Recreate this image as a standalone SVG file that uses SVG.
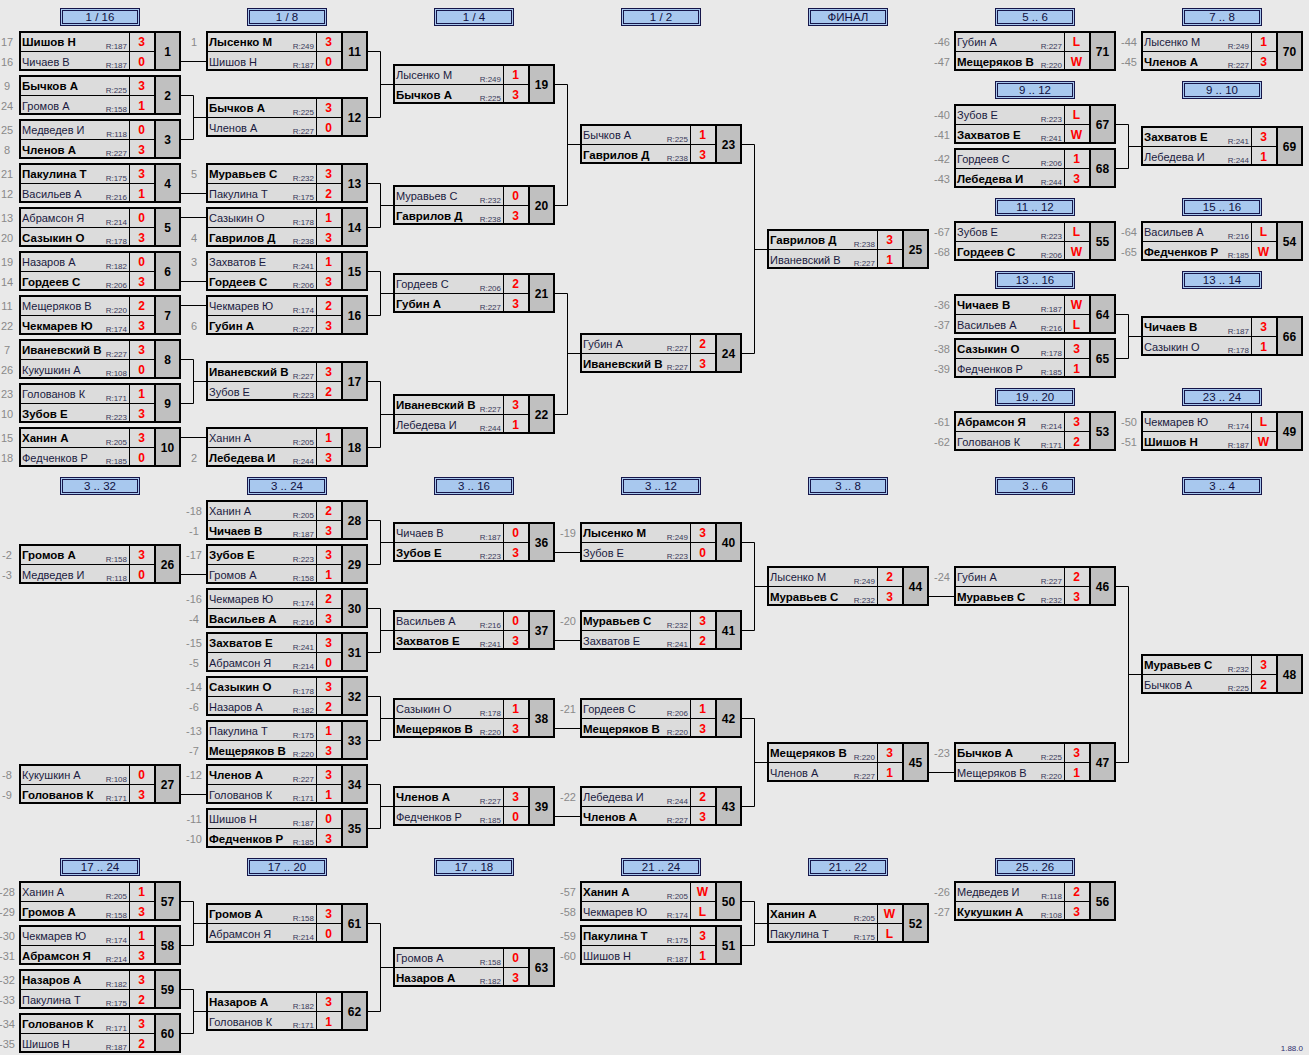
<svg xmlns="http://www.w3.org/2000/svg" xmlns:xlink="http://www.w3.org/1999/xlink" width="1309" height="1055" viewBox="0 0 1309 1055">
<style>
text{font-family:"Liberation Sans",Arial,sans-serif}
.n{font-size:11px;fill:#1a1a40}
.w{font-size:11.5px;font-weight:bold;fill:#000}
.r{font-size:8px;fill:#3a3a5a;text-anchor:end}
.s{font-size:12px;font-weight:bold;fill:#f00;text-anchor:middle}
.k{font-size:12px;font-weight:bold;fill:#000;text-anchor:middle}
.l{font-size:11px;fill:#8a8a8a;text-anchor:middle}
.tt{font-size:11.5px;fill:#101040;text-anchor:middle}
.c{fill:none;stroke:#000;stroke-width:1}
.v{font-size:8px;fill:#303070;text-anchor:end}
</style>
<defs>
<g id="fr">
<rect x="0" y="0" width="162" height="40" fill="#dcdcdc"/>
<rect x="137" y="0" width="25" height="40" fill="#c0c0c0"/>
<path d="M0 20.5H137M110.5 0V40" stroke="#000" stroke-width="1"/>
<rect x="135" y="0" width="2" height="40" fill="#000"/>
<rect x="1" y="1" width="160" height="38" fill="none" stroke="#000" stroke-width="2"/>
</g>
<g id="tf">
<rect x="41.5" y="0.5" width="79" height="17" fill="#a8c8ee" stroke="#16164a"/>
<rect x="43.5" y="2.5" width="75" height="13" fill="none" stroke="#16164a"/>
</g>
</defs>
<rect width="1309" height="1055" fill="#e9e9e9"/>

<g id="titles">
<g id="t1" transform="translate(19,8)"><use href="#tf"/><text class="tt" x="81" y="13">1 / 16</text></g>
<g id="t2" transform="translate(206,8)"><use href="#tf"/><text class="tt" x="81" y="13">1 / 8</text></g>
<g id="t3" transform="translate(393,8)"><use href="#tf"/><text class="tt" x="81" y="13">1 / 4</text></g>
<g id="t4" transform="translate(580,8)"><use href="#tf"/><text class="tt" x="81" y="13">1 / 2</text></g>
<g id="t5" transform="translate(767,8)"><use href="#tf"/><text class="tt" x="81" y="13">ФИНАЛ</text></g>
<g id="t6" transform="translate(954,8)"><use href="#tf"/><text class="tt" x="81" y="13">5 .. 6</text></g>
<g id="t7" transform="translate(1141,8)"><use href="#tf"/><text class="tt" x="81" y="13">7 .. 8</text></g>
<g id="t8" transform="translate(954,81)"><use href="#tf"/><text class="tt" x="81" y="13">9 .. 12</text></g>
<g id="t9" transform="translate(1141,81)"><use href="#tf"/><text class="tt" x="81" y="13">9 .. 10</text></g>
<g id="t10" transform="translate(954,198)"><use href="#tf"/><text class="tt" x="81" y="13">11 .. 12</text></g>
<g id="t11" transform="translate(1141,198)"><use href="#tf"/><text class="tt" x="81" y="13">15 .. 16</text></g>
<g id="t12" transform="translate(954,271)"><use href="#tf"/><text class="tt" x="81" y="13">13 .. 16</text></g>
<g id="t13" transform="translate(1141,271)"><use href="#tf"/><text class="tt" x="81" y="13">13 .. 14</text></g>
<g id="t14" transform="translate(954,388)"><use href="#tf"/><text class="tt" x="81" y="13">19 .. 20</text></g>
<g id="t15" transform="translate(1141,388)"><use href="#tf"/><text class="tt" x="81" y="13">23 .. 24</text></g>
<g id="t16" transform="translate(19,477)"><use href="#tf"/><text class="tt" x="81" y="13">3 .. 32</text></g>
<g id="t17" transform="translate(206,477)"><use href="#tf"/><text class="tt" x="81" y="13">3 .. 24</text></g>
<g id="t18" transform="translate(393,477)"><use href="#tf"/><text class="tt" x="81" y="13">3 .. 16</text></g>
<g id="t19" transform="translate(580,477)"><use href="#tf"/><text class="tt" x="81" y="13">3 .. 12</text></g>
<g id="t20" transform="translate(767,477)"><use href="#tf"/><text class="tt" x="81" y="13">3 .. 8</text></g>
<g id="t21" transform="translate(954,477)"><use href="#tf"/><text class="tt" x="81" y="13">3 .. 6</text></g>
<g id="t22" transform="translate(1141,477)"><use href="#tf"/><text class="tt" x="81" y="13">3 .. 4</text></g>
<g id="t23" transform="translate(19,858)"><use href="#tf"/><text class="tt" x="81" y="13">17 .. 24</text></g>
<g id="t24" transform="translate(206,858)"><use href="#tf"/><text class="tt" x="81" y="13">17 .. 20</text></g>
<g id="t25" transform="translate(393,858)"><use href="#tf"/><text class="tt" x="81" y="13">17 .. 18</text></g>
<g id="t26" transform="translate(580,858)"><use href="#tf"/><text class="tt" x="81" y="13">21 .. 24</text></g>
<g id="t27" transform="translate(767,858)"><use href="#tf"/><text class="tt" x="81" y="13">21 .. 22</text></g>
<g id="t28" transform="translate(954,858)"><use href="#tf"/><text class="tt" x="81" y="13">25 .. 26</text></g>
</g>

<g id="connectors" class="c">
<path d="M181 61.5H206"/>
<path d="M181 95.5H193.5V139.5H181M193.5 117.5H206"/>
<path d="M181 193.5H206"/>
<path d="M181 217.5H206"/>
<path d="M181 281.5H206"/>
<path d="M181 305.5H206"/>
<path d="M181 359.5H193.5V403.5H181M193.5 381.5H206"/>
<path d="M181 437.5H206"/>
<path d="M368 51.5H380.5V117.5H368M380.5 84.5H393"/>
<path d="M368 183.5H380.5V227.5H368M380.5 205.5H393"/>
<path d="M368 271.5H380.5V315.5H368M380.5 293.5H393"/>
<path d="M368 381.5H380.5V447.5H368M380.5 414.5H393"/>
<path d="M555 84.5H567.5V205.5H555M567.5 144.5H580"/>
<path d="M555 293.5H567.5V414.5H555M567.5 353.5H580"/>
<path d="M742 144.5H754.5V353.5H742M754.5 249.5H767"/>
<path d="M1116 124.5H1128.5V168.5H1116M1128.5 146.5H1141"/>
<path d="M1116 314.5H1128.5V358.5H1116M1128.5 336.5H1141"/>
<path d="M181 574.5H206"/>
<path d="M181 794.5H206"/>
<path d="M368 520.5H380.5V564.5H368M380.5 542.5H393"/>
<path d="M368 608.5H380.5V652.5H368M380.5 630.5H393"/>
<path d="M368 696.5H380.5V740.5H368M380.5 718.5H393"/>
<path d="M368 784.5H380.5V828.5H368M380.5 806.5H393"/>
<path d="M555 552.5H580"/>
<path d="M555 640.5H580"/>
<path d="M555 728.5H580"/>
<path d="M555 816.5H580"/>
<path d="M742 542.5H754.5V630.5H742M754.5 586.5H767"/>
<path d="M742 718.5H754.5V806.5H742M754.5 762.5H767"/>
<path d="M929 596.5H954"/>
<path d="M929 772.5H954"/>
<path d="M1116 586.5H1128.5V762.5H1116M1128.5 674.5H1141"/>
<path d="M181 901.5H193.5V945.5H181M193.5 923.5H206"/>
<path d="M181 989.5H193.5V1033.5H181M193.5 1011.5H206"/>
<path d="M368 923.5H380.5V1011.5H368M380.5 967.5H393"/>
<path d="M742 901.5H754.5V945.5H742M754.5 923.5H767"/>
</g>

<g id="m1" transform="translate(19,31)"><use href="#fr"/><text class="w" x="3" y="15">Шишов Н</text><text class="r" x="108" y="17.5">R:187</text><text class="s" x="122.5" y="15">3</text><text class="n" x="3" y="34.5">Чичаев В</text><text class="r" x="108" y="37">R:187</text><text class="s" x="122.5" y="34.5">0</text><text class="k" x="148.5" y="25">1</text><text class="l" x="-12" y="15">17</text><text class="l" x="-12" y="35">16</text></g>
<g id="m2" transform="translate(19,75)"><use href="#fr"/><text class="w" x="3" y="15">Бычков А</text><text class="r" x="108" y="17.5">R:225</text><text class="s" x="122.5" y="15">3</text><text class="n" x="3" y="34.5">Громов А</text><text class="r" x="108" y="37">R:158</text><text class="s" x="122.5" y="34.5">1</text><text class="k" x="148.5" y="25">2</text><text class="l" x="-12" y="15">9</text><text class="l" x="-12" y="35">24</text></g>
<g id="m3" transform="translate(19,119)"><use href="#fr"/><text class="n" x="3" y="15">Медведев И</text><text class="r" x="108" y="17.5">R:118</text><text class="s" x="122.5" y="15">0</text><text class="w" x="3" y="34.5">Членов А</text><text class="r" x="108" y="37">R:227</text><text class="s" x="122.5" y="34.5">3</text><text class="k" x="148.5" y="25">3</text><text class="l" x="-12" y="15">25</text><text class="l" x="-12" y="35">8</text></g>
<g id="m4" transform="translate(19,163)"><use href="#fr"/><text class="w" x="3" y="15">Пакулина Т</text><text class="r" x="108" y="17.5">R:175</text><text class="s" x="122.5" y="15">3</text><text class="n" x="3" y="34.5">Васильев А</text><text class="r" x="108" y="37">R:216</text><text class="s" x="122.5" y="34.5">1</text><text class="k" x="148.5" y="25">4</text><text class="l" x="-12" y="15">21</text><text class="l" x="-12" y="35">12</text></g>
<g id="m5" transform="translate(19,207)"><use href="#fr"/><text class="n" x="3" y="15">Абрамсон Я</text><text class="r" x="108" y="17.5">R:214</text><text class="s" x="122.5" y="15">0</text><text class="w" x="3" y="34.5">Сазыкин О</text><text class="r" x="108" y="37">R:178</text><text class="s" x="122.5" y="34.5">3</text><text class="k" x="148.5" y="25">5</text><text class="l" x="-12" y="15">13</text><text class="l" x="-12" y="35">20</text></g>
<g id="m6" transform="translate(19,251)"><use href="#fr"/><text class="n" x="3" y="15">Назаров А</text><text class="r" x="108" y="17.5">R:182</text><text class="s" x="122.5" y="15">0</text><text class="w" x="3" y="34.5">Гордеев С</text><text class="r" x="108" y="37">R:206</text><text class="s" x="122.5" y="34.5">3</text><text class="k" x="148.5" y="25">6</text><text class="l" x="-12" y="15">19</text><text class="l" x="-12" y="35">14</text></g>
<g id="m7" transform="translate(19,295)"><use href="#fr"/><text class="n" x="3" y="15">Мещеряков В</text><text class="r" x="108" y="17.5">R:220</text><text class="s" x="122.5" y="15">2</text><text class="w" x="3" y="34.5">Чекмарев Ю</text><text class="r" x="108" y="37">R:174</text><text class="s" x="122.5" y="34.5">3</text><text class="k" x="148.5" y="25">7</text><text class="l" x="-12" y="15">11</text><text class="l" x="-12" y="35">22</text></g>
<g id="m8" transform="translate(19,339)"><use href="#fr"/><text class="w" x="3" y="15">Иваневский В</text><text class="r" x="108" y="17.5">R:227</text><text class="s" x="122.5" y="15">3</text><text class="n" x="3" y="34.5">Кукушкин А</text><text class="r" x="108" y="37">R:108</text><text class="s" x="122.5" y="34.5">0</text><text class="k" x="148.5" y="25">8</text><text class="l" x="-12" y="15">7</text><text class="l" x="-12" y="35">26</text></g>
<g id="m9" transform="translate(19,383)"><use href="#fr"/><text class="n" x="3" y="15">Голованов К</text><text class="r" x="108" y="17.5">R:171</text><text class="s" x="122.5" y="15">1</text><text class="w" x="3" y="34.5">Зубов Е</text><text class="r" x="108" y="37">R:223</text><text class="s" x="122.5" y="34.5">3</text><text class="k" x="148.5" y="25">9</text><text class="l" x="-12" y="15">23</text><text class="l" x="-12" y="35">10</text></g>
<g id="m10" transform="translate(19,427)"><use href="#fr"/><text class="w" x="3" y="15">Ханин А</text><text class="r" x="108" y="17.5">R:205</text><text class="s" x="122.5" y="15">3</text><text class="n" x="3" y="34.5">Федченков Р</text><text class="r" x="108" y="37">R:185</text><text class="s" x="122.5" y="34.5">0</text><text class="k" x="148.5" y="25">10</text><text class="l" x="-12" y="15">15</text><text class="l" x="-12" y="35">18</text></g>

<g id="m11" transform="translate(206,31)"><use href="#fr"/><text class="w" x="3" y="15">Лысенко М</text><text class="r" x="108" y="17.5">R:249</text><text class="s" x="122.5" y="15">3</text><text class="n" x="3" y="34.5">Шишов Н</text><text class="r" x="108" y="37">R:187</text><text class="s" x="122.5" y="34.5">0</text><text class="k" x="148.5" y="25">11</text><text class="l" x="-12" y="15">1</text></g>
<g id="m12" transform="translate(206,97)"><use href="#fr"/><text class="w" x="3" y="15">Бычков А</text><text class="r" x="108" y="17.5">R:225</text><text class="s" x="122.5" y="15">3</text><text class="n" x="3" y="34.5">Членов А</text><text class="r" x="108" y="37">R:227</text><text class="s" x="122.5" y="34.5">0</text><text class="k" x="148.5" y="25">12</text></g>
<g id="m13" transform="translate(206,163)"><use href="#fr"/><text class="w" x="3" y="15">Муравьев С</text><text class="r" x="108" y="17.5">R:232</text><text class="s" x="122.5" y="15">3</text><text class="n" x="3" y="34.5">Пакулина Т</text><text class="r" x="108" y="37">R:175</text><text class="s" x="122.5" y="34.5">2</text><text class="k" x="148.5" y="25">13</text><text class="l" x="-12" y="15">5</text></g>
<g id="m14" transform="translate(206,207)"><use href="#fr"/><text class="n" x="3" y="15">Сазыкин О</text><text class="r" x="108" y="17.5">R:178</text><text class="s" x="122.5" y="15">1</text><text class="w" x="3" y="34.5">Гаврилов Д</text><text class="r" x="108" y="37">R:238</text><text class="s" x="122.5" y="34.5">3</text><text class="k" x="148.5" y="25">14</text><text class="l" x="-12" y="35">4</text></g>
<g id="m15" transform="translate(206,251)"><use href="#fr"/><text class="n" x="3" y="15">Захватов Е</text><text class="r" x="108" y="17.5">R:241</text><text class="s" x="122.5" y="15">1</text><text class="w" x="3" y="34.5">Гордеев С</text><text class="r" x="108" y="37">R:206</text><text class="s" x="122.5" y="34.5">3</text><text class="k" x="148.5" y="25">15</text><text class="l" x="-12" y="15">3</text></g>
<g id="m16" transform="translate(206,295)"><use href="#fr"/><text class="n" x="3" y="15">Чекмарев Ю</text><text class="r" x="108" y="17.5">R:174</text><text class="s" x="122.5" y="15">2</text><text class="w" x="3" y="34.5">Губин А</text><text class="r" x="108" y="37">R:227</text><text class="s" x="122.5" y="34.5">3</text><text class="k" x="148.5" y="25">16</text><text class="l" x="-12" y="35">6</text></g>
<g id="m17" transform="translate(206,361)"><use href="#fr"/><text class="w" x="3" y="15">Иваневский В</text><text class="r" x="108" y="17.5">R:227</text><text class="s" x="122.5" y="15">3</text><text class="n" x="3" y="34.5">Зубов Е</text><text class="r" x="108" y="37">R:223</text><text class="s" x="122.5" y="34.5">2</text><text class="k" x="148.5" y="25">17</text></g>
<g id="m18" transform="translate(206,427)"><use href="#fr"/><text class="n" x="3" y="15">Ханин А</text><text class="r" x="108" y="17.5">R:205</text><text class="s" x="122.5" y="15">1</text><text class="w" x="3" y="34.5">Лебедева И</text><text class="r" x="108" y="37">R:244</text><text class="s" x="122.5" y="34.5">3</text><text class="k" x="148.5" y="25">18</text><text class="l" x="-12" y="35">2</text></g>

<g id="m19" transform="translate(393,64)"><use href="#fr"/><text class="n" x="3" y="15">Лысенко М</text><text class="r" x="108" y="17.5">R:249</text><text class="s" x="122.5" y="15">1</text><text class="w" x="3" y="34.5">Бычков А</text><text class="r" x="108" y="37">R:225</text><text class="s" x="122.5" y="34.5">3</text><text class="k" x="148.5" y="25">19</text></g>
<g id="m20" transform="translate(393,185)"><use href="#fr"/><text class="n" x="3" y="15">Муравьев С</text><text class="r" x="108" y="17.5">R:232</text><text class="s" x="122.5" y="15">0</text><text class="w" x="3" y="34.5">Гаврилов Д</text><text class="r" x="108" y="37">R:238</text><text class="s" x="122.5" y="34.5">3</text><text class="k" x="148.5" y="25">20</text></g>
<g id="m21" transform="translate(393,273)"><use href="#fr"/><text class="n" x="3" y="15">Гордеев С</text><text class="r" x="108" y="17.5">R:206</text><text class="s" x="122.5" y="15">2</text><text class="w" x="3" y="34.5">Губин А</text><text class="r" x="108" y="37">R:227</text><text class="s" x="122.5" y="34.5">3</text><text class="k" x="148.5" y="25">21</text></g>
<g id="m22" transform="translate(393,394)"><use href="#fr"/><text class="w" x="3" y="15">Иваневский В</text><text class="r" x="108" y="17.5">R:227</text><text class="s" x="122.5" y="15">3</text><text class="n" x="3" y="34.5">Лебедева И</text><text class="r" x="108" y="37">R:244</text><text class="s" x="122.5" y="34.5">1</text><text class="k" x="148.5" y="25">22</text></g>

<g id="m23" transform="translate(580,124)"><use href="#fr"/><text class="n" x="3" y="15">Бычков А</text><text class="r" x="108" y="17.5">R:225</text><text class="s" x="122.5" y="15">1</text><text class="w" x="3" y="34.5">Гаврилов Д</text><text class="r" x="108" y="37">R:238</text><text class="s" x="122.5" y="34.5">3</text><text class="k" x="148.5" y="25">23</text></g>
<g id="m24" transform="translate(580,333)"><use href="#fr"/><text class="n" x="3" y="15">Губин А</text><text class="r" x="108" y="17.5">R:227</text><text class="s" x="122.5" y="15">2</text><text class="w" x="3" y="34.5">Иваневский В</text><text class="r" x="108" y="37">R:227</text><text class="s" x="122.5" y="34.5">3</text><text class="k" x="148.5" y="25">24</text></g>
<g id="m25" transform="translate(767,229)"><use href="#fr"/><text class="w" x="3" y="15">Гаврилов Д</text><text class="r" x="108" y="17.5">R:238</text><text class="s" x="122.5" y="15">3</text><text class="n" x="3" y="34.5">Иваневский В</text><text class="r" x="108" y="37">R:227</text><text class="s" x="122.5" y="34.5">1</text><text class="k" x="148.5" y="25">25</text></g>

<g id="m71" transform="translate(954,31)"><use href="#fr"/><text class="n" x="3" y="15">Губин А</text><text class="r" x="108" y="17.5">R:227</text><text class="s" x="122.5" y="15">L</text><text class="w" x="3" y="34.5">Мещеряков В</text><text class="r" x="108" y="37">R:220</text><text class="s" x="122.5" y="34.5">W</text><text class="k" x="148.5" y="25">71</text><text class="l" x="-12" y="15">-46</text><text class="l" x="-12" y="35">-47</text></g>
<g id="m67" transform="translate(954,104)"><use href="#fr"/><text class="n" x="3" y="15">Зубов Е</text><text class="r" x="108" y="17.5">R:223</text><text class="s" x="122.5" y="15">L</text><text class="w" x="3" y="34.5">Захватов Е</text><text class="r" x="108" y="37">R:241</text><text class="s" x="122.5" y="34.5">W</text><text class="k" x="148.5" y="25">67</text><text class="l" x="-12" y="15">-40</text><text class="l" x="-12" y="35">-41</text></g>
<g id="m68" transform="translate(954,148)"><use href="#fr"/><text class="n" x="3" y="15">Гордеев С</text><text class="r" x="108" y="17.5">R:206</text><text class="s" x="122.5" y="15">1</text><text class="w" x="3" y="34.5">Лебедева И</text><text class="r" x="108" y="37">R:244</text><text class="s" x="122.5" y="34.5">3</text><text class="k" x="148.5" y="25">68</text><text class="l" x="-12" y="15">-42</text><text class="l" x="-12" y="35">-43</text></g>
<g id="m55" transform="translate(954,221)"><use href="#fr"/><text class="n" x="3" y="15">Зубов Е</text><text class="r" x="108" y="17.5">R:223</text><text class="s" x="122.5" y="15">L</text><text class="w" x="3" y="34.5">Гордеев С</text><text class="r" x="108" y="37">R:206</text><text class="s" x="122.5" y="34.5">W</text><text class="k" x="148.5" y="25">55</text><text class="l" x="-12" y="15">-67</text><text class="l" x="-12" y="35">-68</text></g>
<g id="m64" transform="translate(954,294)"><use href="#fr"/><text class="w" x="3" y="15">Чичаев В</text><text class="r" x="108" y="17.5">R:187</text><text class="s" x="122.5" y="15">W</text><text class="n" x="3" y="34.5">Васильев А</text><text class="r" x="108" y="37">R:216</text><text class="s" x="122.5" y="34.5">L</text><text class="k" x="148.5" y="25">64</text><text class="l" x="-12" y="15">-36</text><text class="l" x="-12" y="35">-37</text></g>
<g id="m65" transform="translate(954,338)"><use href="#fr"/><text class="w" x="3" y="15">Сазыкин О</text><text class="r" x="108" y="17.5">R:178</text><text class="s" x="122.5" y="15">3</text><text class="n" x="3" y="34.5">Федченков Р</text><text class="r" x="108" y="37">R:185</text><text class="s" x="122.5" y="34.5">1</text><text class="k" x="148.5" y="25">65</text><text class="l" x="-12" y="15">-38</text><text class="l" x="-12" y="35">-39</text></g>
<g id="m53" transform="translate(954,411)"><use href="#fr"/><text class="w" x="3" y="15">Абрамсон Я</text><text class="r" x="108" y="17.5">R:214</text><text class="s" x="122.5" y="15">3</text><text class="n" x="3" y="34.5">Голованов К</text><text class="r" x="108" y="37">R:171</text><text class="s" x="122.5" y="34.5">2</text><text class="k" x="148.5" y="25">53</text><text class="l" x="-12" y="15">-61</text><text class="l" x="-12" y="35">-62</text></g>

<g id="m70" transform="translate(1141,31)"><use href="#fr"/><text class="n" x="3" y="15">Лысенко М</text><text class="r" x="108" y="17.5">R:249</text><text class="s" x="122.5" y="15">1</text><text class="w" x="3" y="34.5">Членов А</text><text class="r" x="108" y="37">R:227</text><text class="s" x="122.5" y="34.5">3</text><text class="k" x="148.5" y="25">70</text><text class="l" x="-12" y="15">-44</text><text class="l" x="-12" y="35">-45</text></g>
<g id="m69" transform="translate(1141,126)"><use href="#fr"/><text class="w" x="3" y="15">Захватов Е</text><text class="r" x="108" y="17.5">R:241</text><text class="s" x="122.5" y="15">3</text><text class="n" x="3" y="34.5">Лебедева И</text><text class="r" x="108" y="37">R:244</text><text class="s" x="122.5" y="34.5">1</text><text class="k" x="148.5" y="25">69</text></g>
<g id="m54" transform="translate(1141,221)"><use href="#fr"/><text class="n" x="3" y="15">Васильев А</text><text class="r" x="108" y="17.5">R:216</text><text class="s" x="122.5" y="15">L</text><text class="w" x="3" y="34.5">Федченков Р</text><text class="r" x="108" y="37">R:185</text><text class="s" x="122.5" y="34.5">W</text><text class="k" x="148.5" y="25">54</text><text class="l" x="-12" y="15">-64</text><text class="l" x="-12" y="35">-65</text></g>
<g id="m66" transform="translate(1141,316)"><use href="#fr"/><text class="w" x="3" y="15">Чичаев В</text><text class="r" x="108" y="17.5">R:187</text><text class="s" x="122.5" y="15">3</text><text class="n" x="3" y="34.5">Сазыкин О</text><text class="r" x="108" y="37">R:178</text><text class="s" x="122.5" y="34.5">1</text><text class="k" x="148.5" y="25">66</text></g>
<g id="m49" transform="translate(1141,411)"><use href="#fr"/><text class="n" x="3" y="15">Чекмарев Ю</text><text class="r" x="108" y="17.5">R:174</text><text class="s" x="122.5" y="15">L</text><text class="w" x="3" y="34.5">Шишов Н</text><text class="r" x="108" y="37">R:187</text><text class="s" x="122.5" y="34.5">W</text><text class="k" x="148.5" y="25">49</text><text class="l" x="-12" y="15">-50</text><text class="l" x="-12" y="35">-51</text></g>

<g id="m26" transform="translate(19,544)"><use href="#fr"/><text class="w" x="3" y="15">Громов А</text><text class="r" x="108" y="17.5">R:158</text><text class="s" x="122.5" y="15">3</text><text class="n" x="3" y="34.5">Медведев И</text><text class="r" x="108" y="37">R:118</text><text class="s" x="122.5" y="34.5">0</text><text class="k" x="148.5" y="25">26</text><text class="l" x="-12" y="15">-2</text><text class="l" x="-12" y="35">-3</text></g>
<g id="m27" transform="translate(19,764)"><use href="#fr"/><text class="n" x="3" y="15">Кукушкин А</text><text class="r" x="108" y="17.5">R:108</text><text class="s" x="122.5" y="15">0</text><text class="w" x="3" y="34.5">Голованов К</text><text class="r" x="108" y="37">R:171</text><text class="s" x="122.5" y="34.5">3</text><text class="k" x="148.5" y="25">27</text><text class="l" x="-12" y="15">-8</text><text class="l" x="-12" y="35">-9</text></g>

<g id="m28" transform="translate(206,500)"><use href="#fr"/><text class="n" x="3" y="15">Ханин А</text><text class="r" x="108" y="17.5">R:205</text><text class="s" x="122.5" y="15">2</text><text class="w" x="3" y="34.5">Чичаев В</text><text class="r" x="108" y="37">R:187</text><text class="s" x="122.5" y="34.5">3</text><text class="k" x="148.5" y="25">28</text><text class="l" x="-12" y="15">-18</text><text class="l" x="-12" y="35">-1</text></g>
<g id="m29" transform="translate(206,544)"><use href="#fr"/><text class="w" x="3" y="15">Зубов Е</text><text class="r" x="108" y="17.5">R:223</text><text class="s" x="122.5" y="15">3</text><text class="n" x="3" y="34.5">Громов А</text><text class="r" x="108" y="37">R:158</text><text class="s" x="122.5" y="34.5">1</text><text class="k" x="148.5" y="25">29</text><text class="l" x="-12" y="15">-17</text></g>
<g id="m30" transform="translate(206,588)"><use href="#fr"/><text class="n" x="3" y="15">Чекмарев Ю</text><text class="r" x="108" y="17.5">R:174</text><text class="s" x="122.5" y="15">2</text><text class="w" x="3" y="34.5">Васильев А</text><text class="r" x="108" y="37">R:216</text><text class="s" x="122.5" y="34.5">3</text><text class="k" x="148.5" y="25">30</text><text class="l" x="-12" y="15">-16</text><text class="l" x="-12" y="35">-4</text></g>
<g id="m31" transform="translate(206,632)"><use href="#fr"/><text class="w" x="3" y="15">Захватов Е</text><text class="r" x="108" y="17.5">R:241</text><text class="s" x="122.5" y="15">3</text><text class="n" x="3" y="34.5">Абрамсон Я</text><text class="r" x="108" y="37">R:214</text><text class="s" x="122.5" y="34.5">0</text><text class="k" x="148.5" y="25">31</text><text class="l" x="-12" y="15">-15</text><text class="l" x="-12" y="35">-5</text></g>
<g id="m32" transform="translate(206,676)"><use href="#fr"/><text class="w" x="3" y="15">Сазыкин О</text><text class="r" x="108" y="17.5">R:178</text><text class="s" x="122.5" y="15">3</text><text class="n" x="3" y="34.5">Назаров А</text><text class="r" x="108" y="37">R:182</text><text class="s" x="122.5" y="34.5">2</text><text class="k" x="148.5" y="25">32</text><text class="l" x="-12" y="15">-14</text><text class="l" x="-12" y="35">-6</text></g>
<g id="m33" transform="translate(206,720)"><use href="#fr"/><text class="n" x="3" y="15">Пакулина Т</text><text class="r" x="108" y="17.5">R:175</text><text class="s" x="122.5" y="15">1</text><text class="w" x="3" y="34.5">Мещеряков В</text><text class="r" x="108" y="37">R:220</text><text class="s" x="122.5" y="34.5">3</text><text class="k" x="148.5" y="25">33</text><text class="l" x="-12" y="15">-13</text><text class="l" x="-12" y="35">-7</text></g>
<g id="m34" transform="translate(206,764)"><use href="#fr"/><text class="w" x="3" y="15">Членов А</text><text class="r" x="108" y="17.5">R:227</text><text class="s" x="122.5" y="15">3</text><text class="n" x="3" y="34.5">Голованов К</text><text class="r" x="108" y="37">R:171</text><text class="s" x="122.5" y="34.5">1</text><text class="k" x="148.5" y="25">34</text><text class="l" x="-12" y="15">-12</text></g>
<g id="m35" transform="translate(206,808)"><use href="#fr"/><text class="n" x="3" y="15">Шишов Н</text><text class="r" x="108" y="17.5">R:187</text><text class="s" x="122.5" y="15">0</text><text class="w" x="3" y="34.5">Федченков Р</text><text class="r" x="108" y="37">R:185</text><text class="s" x="122.5" y="34.5">3</text><text class="k" x="148.5" y="25">35</text><text class="l" x="-12" y="15">-11</text><text class="l" x="-12" y="35">-10</text></g>

<g id="m36" transform="translate(393,522)"><use href="#fr"/><text class="n" x="3" y="15">Чичаев В</text><text class="r" x="108" y="17.5">R:187</text><text class="s" x="122.5" y="15">0</text><text class="w" x="3" y="34.5">Зубов Е</text><text class="r" x="108" y="37">R:223</text><text class="s" x="122.5" y="34.5">3</text><text class="k" x="148.5" y="25">36</text></g>
<g id="m37" transform="translate(393,610)"><use href="#fr"/><text class="n" x="3" y="15">Васильев А</text><text class="r" x="108" y="17.5">R:216</text><text class="s" x="122.5" y="15">0</text><text class="w" x="3" y="34.5">Захватов Е</text><text class="r" x="108" y="37">R:241</text><text class="s" x="122.5" y="34.5">3</text><text class="k" x="148.5" y="25">37</text></g>
<g id="m38" transform="translate(393,698)"><use href="#fr"/><text class="n" x="3" y="15">Сазыкин О</text><text class="r" x="108" y="17.5">R:178</text><text class="s" x="122.5" y="15">1</text><text class="w" x="3" y="34.5">Мещеряков В</text><text class="r" x="108" y="37">R:220</text><text class="s" x="122.5" y="34.5">3</text><text class="k" x="148.5" y="25">38</text></g>
<g id="m39" transform="translate(393,786)"><use href="#fr"/><text class="w" x="3" y="15">Членов А</text><text class="r" x="108" y="17.5">R:227</text><text class="s" x="122.5" y="15">3</text><text class="n" x="3" y="34.5">Федченков Р</text><text class="r" x="108" y="37">R:185</text><text class="s" x="122.5" y="34.5">0</text><text class="k" x="148.5" y="25">39</text></g>

<g id="m40" transform="translate(580,522)"><use href="#fr"/><text class="w" x="3" y="15">Лысенко М</text><text class="r" x="108" y="17.5">R:249</text><text class="s" x="122.5" y="15">3</text><text class="n" x="3" y="34.5">Зубов Е</text><text class="r" x="108" y="37">R:223</text><text class="s" x="122.5" y="34.5">0</text><text class="k" x="148.5" y="25">40</text><text class="l" x="-12" y="15">-19</text></g>
<g id="m41" transform="translate(580,610)"><use href="#fr"/><text class="w" x="3" y="15">Муравьев С</text><text class="r" x="108" y="17.5">R:232</text><text class="s" x="122.5" y="15">3</text><text class="n" x="3" y="34.5">Захватов Е</text><text class="r" x="108" y="37">R:241</text><text class="s" x="122.5" y="34.5">2</text><text class="k" x="148.5" y="25">41</text><text class="l" x="-12" y="15">-20</text></g>
<g id="m42" transform="translate(580,698)"><use href="#fr"/><text class="n" x="3" y="15">Гордеев С</text><text class="r" x="108" y="17.5">R:206</text><text class="s" x="122.5" y="15">1</text><text class="w" x="3" y="34.5">Мещеряков В</text><text class="r" x="108" y="37">R:220</text><text class="s" x="122.5" y="34.5">3</text><text class="k" x="148.5" y="25">42</text><text class="l" x="-12" y="15">-21</text></g>
<g id="m43" transform="translate(580,786)"><use href="#fr"/><text class="n" x="3" y="15">Лебедева И</text><text class="r" x="108" y="17.5">R:244</text><text class="s" x="122.5" y="15">2</text><text class="w" x="3" y="34.5">Членов А</text><text class="r" x="108" y="37">R:227</text><text class="s" x="122.5" y="34.5">3</text><text class="k" x="148.5" y="25">43</text><text class="l" x="-12" y="15">-22</text></g>

<g id="m44" transform="translate(767,566)"><use href="#fr"/><text class="n" x="3" y="15">Лысенко М</text><text class="r" x="108" y="17.5">R:249</text><text class="s" x="122.5" y="15">2</text><text class="w" x="3" y="34.5">Муравьев С</text><text class="r" x="108" y="37">R:232</text><text class="s" x="122.5" y="34.5">3</text><text class="k" x="148.5" y="25">44</text></g>
<g id="m45" transform="translate(767,742)"><use href="#fr"/><text class="w" x="3" y="15">Мещеряков В</text><text class="r" x="108" y="17.5">R:220</text><text class="s" x="122.5" y="15">3</text><text class="n" x="3" y="34.5">Членов А</text><text class="r" x="108" y="37">R:227</text><text class="s" x="122.5" y="34.5">1</text><text class="k" x="148.5" y="25">45</text></g>

<g id="m46" transform="translate(954,566)"><use href="#fr"/><text class="n" x="3" y="15">Губин А</text><text class="r" x="108" y="17.5">R:227</text><text class="s" x="122.5" y="15">2</text><text class="w" x="3" y="34.5">Муравьев С</text><text class="r" x="108" y="37">R:232</text><text class="s" x="122.5" y="34.5">3</text><text class="k" x="148.5" y="25">46</text><text class="l" x="-12" y="15">-24</text></g>
<g id="m47" transform="translate(954,742)"><use href="#fr"/><text class="w" x="3" y="15">Бычков А</text><text class="r" x="108" y="17.5">R:225</text><text class="s" x="122.5" y="15">3</text><text class="n" x="3" y="34.5">Мещеряков В</text><text class="r" x="108" y="37">R:220</text><text class="s" x="122.5" y="34.5">1</text><text class="k" x="148.5" y="25">47</text><text class="l" x="-12" y="15">-23</text></g>

<g id="m48" transform="translate(1141,654)"><use href="#fr"/><text class="w" x="3" y="15">Муравьев С</text><text class="r" x="108" y="17.5">R:232</text><text class="s" x="122.5" y="15">3</text><text class="n" x="3" y="34.5">Бычков А</text><text class="r" x="108" y="37">R:225</text><text class="s" x="122.5" y="34.5">2</text><text class="k" x="148.5" y="25">48</text></g>

<g id="m57" transform="translate(19,881)"><use href="#fr"/><text class="n" x="3" y="15">Ханин А</text><text class="r" x="108" y="17.5">R:205</text><text class="s" x="122.5" y="15">1</text><text class="w" x="3" y="34.5">Громов А</text><text class="r" x="108" y="37">R:158</text><text class="s" x="122.5" y="34.5">3</text><text class="k" x="148.5" y="25">57</text><text class="l" x="-12" y="15">-28</text><text class="l" x="-12" y="35">-29</text></g>
<g id="m58" transform="translate(19,925)"><use href="#fr"/><text class="n" x="3" y="15">Чекмарев Ю</text><text class="r" x="108" y="17.5">R:174</text><text class="s" x="122.5" y="15">1</text><text class="w" x="3" y="34.5">Абрамсон Я</text><text class="r" x="108" y="37">R:214</text><text class="s" x="122.5" y="34.5">3</text><text class="k" x="148.5" y="25">58</text><text class="l" x="-12" y="15">-30</text><text class="l" x="-12" y="35">-31</text></g>
<g id="m59" transform="translate(19,969)"><use href="#fr"/><text class="w" x="3" y="15">Назаров А</text><text class="r" x="108" y="17.5">R:182</text><text class="s" x="122.5" y="15">3</text><text class="n" x="3" y="34.5">Пакулина Т</text><text class="r" x="108" y="37">R:175</text><text class="s" x="122.5" y="34.5">2</text><text class="k" x="148.5" y="25">59</text><text class="l" x="-12" y="15">-32</text><text class="l" x="-12" y="35">-33</text></g>
<g id="m60" transform="translate(19,1013)"><use href="#fr"/><text class="w" x="3" y="15">Голованов К</text><text class="r" x="108" y="17.5">R:171</text><text class="s" x="122.5" y="15">3</text><text class="n" x="3" y="34.5">Шишов Н</text><text class="r" x="108" y="37">R:187</text><text class="s" x="122.5" y="34.5">2</text><text class="k" x="148.5" y="25">60</text><text class="l" x="-12" y="15">-34</text><text class="l" x="-12" y="35">-35</text></g>

<g id="m61" transform="translate(206,903)"><use href="#fr"/><text class="w" x="3" y="15">Громов А</text><text class="r" x="108" y="17.5">R:158</text><text class="s" x="122.5" y="15">3</text><text class="n" x="3" y="34.5">Абрамсон Я</text><text class="r" x="108" y="37">R:214</text><text class="s" x="122.5" y="34.5">0</text><text class="k" x="148.5" y="25">61</text></g>
<g id="m62" transform="translate(206,991)"><use href="#fr"/><text class="w" x="3" y="15">Назаров А</text><text class="r" x="108" y="17.5">R:182</text><text class="s" x="122.5" y="15">3</text><text class="n" x="3" y="34.5">Голованов К</text><text class="r" x="108" y="37">R:171</text><text class="s" x="122.5" y="34.5">1</text><text class="k" x="148.5" y="25">62</text></g>
<g id="m63" transform="translate(393,947)"><use href="#fr"/><text class="n" x="3" y="15">Громов А</text><text class="r" x="108" y="17.5">R:158</text><text class="s" x="122.5" y="15">0</text><text class="w" x="3" y="34.5">Назаров А</text><text class="r" x="108" y="37">R:182</text><text class="s" x="122.5" y="34.5">3</text><text class="k" x="148.5" y="25">63</text></g>

<g id="m50" transform="translate(580,881)"><use href="#fr"/><text class="w" x="3" y="15">Ханин А</text><text class="r" x="108" y="17.5">R:205</text><text class="s" x="122.5" y="15">W</text><text class="n" x="3" y="34.5">Чекмарев Ю</text><text class="r" x="108" y="37">R:174</text><text class="s" x="122.5" y="34.5">L</text><text class="k" x="148.5" y="25">50</text><text class="l" x="-12" y="15">-57</text><text class="l" x="-12" y="35">-58</text></g>
<g id="m51" transform="translate(580,925)"><use href="#fr"/><text class="w" x="3" y="15">Пакулина Т</text><text class="r" x="108" y="17.5">R:175</text><text class="s" x="122.5" y="15">3</text><text class="n" x="3" y="34.5">Шишов Н</text><text class="r" x="108" y="37">R:187</text><text class="s" x="122.5" y="34.5">1</text><text class="k" x="148.5" y="25">51</text><text class="l" x="-12" y="15">-59</text><text class="l" x="-12" y="35">-60</text></g>
<g id="m52" transform="translate(767,903)"><use href="#fr"/><text class="w" x="3" y="15">Ханин А</text><text class="r" x="108" y="17.5">R:205</text><text class="s" x="122.5" y="15">W</text><text class="n" x="3" y="34.5">Пакулина Т</text><text class="r" x="108" y="37">R:175</text><text class="s" x="122.5" y="34.5">L</text><text class="k" x="148.5" y="25">52</text></g>
<g id="m56" transform="translate(954,881)"><use href="#fr"/><text class="n" x="3" y="15">Медведев И</text><text class="r" x="108" y="17.5">R:118</text><text class="s" x="122.5" y="15">2</text><text class="w" x="3" y="34.5">Кукушкин А</text><text class="r" x="108" y="37">R:108</text><text class="s" x="122.5" y="34.5">3</text><text class="k" x="148.5" y="25">56</text><text class="l" x="-12" y="15">-26</text><text class="l" x="-12" y="35">-27</text></g>

<text class="v" x="1303" y="1051">1.88.0</text>
</svg>
